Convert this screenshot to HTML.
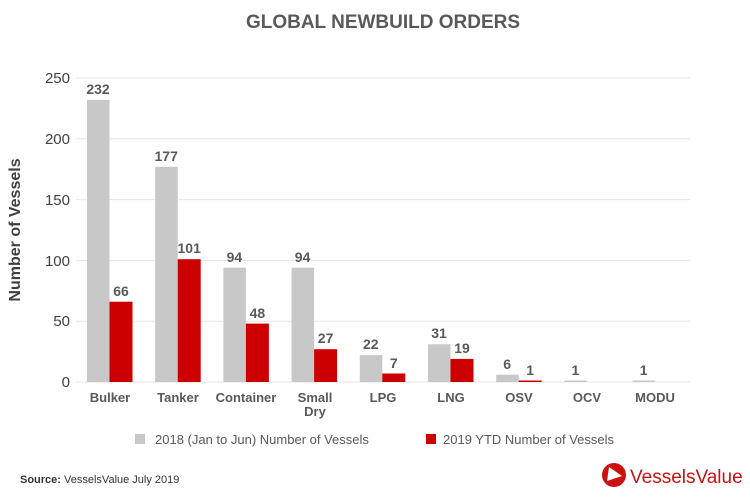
<!DOCTYPE html>
<html><head><meta charset="utf-8"><style>
html,body{margin:0;padding:0;background:#fff;}
svg text{font-family:"Liberation Sans",sans-serif;}
</style></head><body>
<svg width="750" height="493" xmlns="http://www.w3.org/2000/svg">
<rect width="750" height="493" fill="#fff"/>
<text x="383" y="28" text-anchor="middle" font-size="19" font-weight="bold" fill="#595959">GLOBAL NEWBUILD ORDERS</text>
<g stroke="#e6e6e6" stroke-width="1">
<line x1="76" x2="690" y1="78" y2="78"/>
<line x1="76" x2="690" y1="138.8" y2="138.8"/>
<line x1="76" x2="690" y1="199.6" y2="199.6"/>
<line x1="76" x2="690" y1="260.4" y2="260.4"/>
<line x1="76" x2="690" y1="321.2" y2="321.2"/>
<line x1="76" x2="690" y1="382" y2="382"/>
</g>
<g font-size="15" fill="#404040" text-anchor="end">
<text x="70" y="83">250</text><text x="70" y="144">200</text><text x="70" y="205">150</text>
<text x="70" y="266">100</text><text x="70" y="326">50</text><text x="70" y="387">0</text>
</g>
<text transform="translate(20,230) rotate(-90)" text-anchor="middle" font-size="16" font-weight="bold" fill="#404040">Number of Vessels</text>
<g fill="#c8c8c8">
<rect x="87" y="99.9" width="22.5" height="282.1"/>
<rect x="155.2" y="166.8" width="22.5" height="215.2"/>
<rect x="223.4" y="267.7" width="22.5" height="114.3"/>
<rect x="291.6" y="267.7" width="22.5" height="114.3"/>
<rect x="359.8" y="355.2" width="22.5" height="26.8"/>
<rect x="428" y="344.3" width="22.5" height="37.7"/>
<rect x="496.2" y="374.7" width="22.5" height="7.3"/>
<rect x="564.4" y="380.5" width="22.5" height="1.5"/>
<rect x="632.6" y="380.5" width="22.5" height="1.5"/>
</g>
<g fill="#cc0000">
<rect x="109.5" y="301.7" width="23" height="80.3"/>
<rect x="177.7" y="259.2" width="23" height="122.8"/>
<rect x="245.9" y="323.6" width="23" height="58.4"/>
<rect x="314.1" y="349.2" width="23" height="32.8"/>
<rect x="382.3" y="373.5" width="23" height="8.5"/>
<rect x="450.5" y="358.9" width="23" height="23.1"/>
<rect x="518.7" y="380.5" width="23" height="1.5"/>
</g>
<g font-size="14" font-weight="bold" fill="#595959" text-anchor="middle">
<text x="98" y="94">232</text><text x="166.2" y="161">177</text><text x="234.4" y="262">94</text>
<text x="302.6" y="262">94</text><text x="370.8" y="349">22</text><text x="439" y="338">31</text>
<text x="507.2" y="369">6</text><text x="575.4" y="375">1</text><text x="643.6" y="375">1</text>
<text x="121" y="296">66</text><text x="189.2" y="253">101</text><text x="257.4" y="318">48</text>
<text x="325.6" y="343">27</text><text x="393.8" y="368">7</text><text x="462" y="353">19</text>
<text x="530.2" y="375">1</text>
</g>
<g font-size="13" font-weight="bold" fill="#595959" text-anchor="middle">
<text x="110" y="402">Bulker</text><text x="178" y="402">Tanker</text><text x="246" y="402">Container</text>
<text x="315" y="402">Small</text><text x="315" y="416">Dry</text>
<text x="383" y="402">LPG</text><text x="451" y="402">LNG</text><text x="519" y="402">OSV</text>
<text x="587" y="402">OCV</text><text x="655" y="402">MODU</text>
</g>
<rect x="135" y="434" width="10" height="10" fill="#c8c8c8"/>
<text x="155" y="444" font-size="13" fill="#595959">2018 (Jan to Jun) Number of Vessels</text>
<rect x="426" y="434" width="10" height="10" fill="#cc0000"/>
<text x="443" y="444" font-size="13" fill="#595959">2019 YTD Number of Vessels</text>
<text x="20" y="483" font-size="11" fill="#333"><tspan font-weight="bold">Source:</tspan> VesselsValue July 2019</text>
<circle cx="614" cy="475" r="12" fill="#cc1111"/>
<path d="M609 467 L622 476 L607 481 Z" fill="#fff"/>
<text x="630" y="483" font-size="19" fill="#cc1111">VesselsValue</text>
</svg>
</body></html>
